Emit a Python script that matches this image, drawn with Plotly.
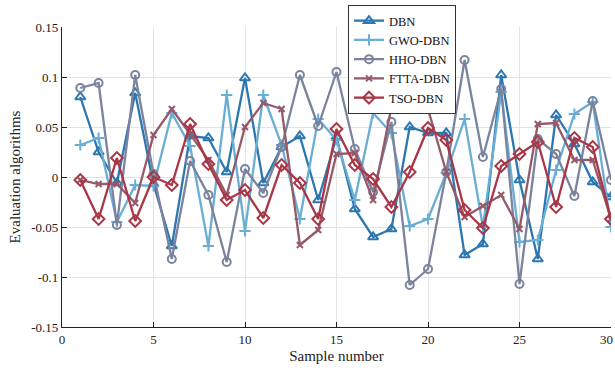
import plotly.graph_objects as go

samples = list(range(1, 31))

dbn = [0.080, 0.025, -0.006, 0.084, -0.007, -0.069, 0.041, 0.039, 0.005, 0.099,
       -0.006, 0.030, 0.041, -0.023, 0.040, -0.032, -0.060, -0.052, 0.050, 0.044,
       0.044, -0.078, -0.067, 0.102, -0.003, -0.082, 0.062, 0.033, -0.005, -0.020]
gwo = [0.032, 0.039, -0.045, -0.008, -0.009, 0.064, 0.031, -0.069, 0.082, -0.054,
       0.082, 0.032, -0.042, 0.058, 0.037, -0.023, 0.064, 0.044, -0.049, -0.042,
       0.004, 0.058, -0.050, 0.085, -0.065, -0.063, 0.007, 0.063, 0.075, -0.050]
hho = [0.089, 0.094, -0.048, 0.102, 0.003, -0.082, 0.016, -0.018, -0.085, 0.008,
       -0.016, 0.030, 0.102, 0.051, 0.105, 0.028, -0.015, 0.055, -0.108, -0.092,
       0.005, 0.117, 0.020, 0.088, -0.107, 0.038, 0.023, -0.019, 0.076, -0.003]
ftta = [-0.003, -0.007, -0.007, -0.026, 0.042, 0.068, 0.043, 0.017, -0.018, 0.050,
        0.074, 0.068, -0.068, -0.053, 0.023, 0.024, -0.023, 0.070, 0.069, 0.068,
        0.005, -0.040, -0.029, -0.018, -0.052, 0.053, 0.054, 0.017, 0.017, -0.042]
tso = [-0.003, -0.042, 0.019, -0.044, 0.000, -0.008, 0.053, 0.013, -0.023, -0.013,
       -0.041, 0.012, -0.006, -0.042, 0.048, 0.012, -0.002, -0.030, 0.005, 0.049,
       0.037, -0.033, -0.051, 0.011, 0.023, 0.035, -0.030, 0.039, 0.030, -0.042]

x_ticks = [0, 5, 10, 15, 20, 25, 30]
y_ticks = [-0.15, -0.1, -0.05, 0, 0.05, 0.1, 0.15]
y_tick_labels = ["-0.15", "-0.1", "-0.05", "0", "0.05", "0.1", "0.15"]

series = [
    ("DBN", dbn, "#2d77b0", "triangle-up-open", 9),
    ("GWO-DBN", gwo, "#6aaed6", "cross-thin-open", 8),
    ("HHO-DBN", hho, "#7b839d", "circle-open", 8),
    ("FTTA-DBN", ftta, "#955a69", "x-thin-open", 6),
    ("TSO-DBN", tso, "#a93646", "diamond-open", 9),
]

fig = go.Figure()
for name, vals, color, sym, size in series:
    fig.add_trace(go.Scatter(
        x=samples, y=vals, name=name, mode="lines+markers",
        line=dict(color=color, width=2.3),
        marker=dict(symbol=sym, size=size, color=color,
                    line=dict(color=color, width=2.0)),
    ))

font_family = "Liberation Serif"
fig.update_layout(
    width=615, height=371,
    margin=dict(l=62, r=4, t=27, b=44, autoexpand=False),
    paper_bgcolor="white", plot_bgcolor="white",
    font=dict(family=font_family, size=13, color="#222222"),
    showlegend=True,
    legend=dict(xref="container", yref="container",
                x=348 / 615, y=1 - 5 / 371, xanchor="left", yanchor="top",
                bgcolor="white", bordercolor="#333333", borderwidth=1,
                font=dict(family=font_family, size=12.5, color="#111111"),
                tracegroupgap=0, itemwidth=30),
)
# the last x tick label sits at the page edge; nudge it in so it stays readable
fig.add_annotation(x=x_ticks[-1], y=0, xref="x", yref="paper", text=str(x_ticks[-1]),
                   showarrow=False, xanchor="center", yanchor="top", yshift=-3,
                   xshift=-5, font=dict(size=13, color="#222222"))
fig.update_xaxes(
    range=[0, 30], tickvals=x_ticks, ticks="inside", ticklen=5,
    tickcolor="#222222", showline=True, linecolor="#222222", linewidth=1.2,
    showgrid=True, gridcolor="#e3e3e3", gridwidth=1, zeroline=False,
    automargin=False,
    title=dict(text="Sample number", font=dict(size=15), standoff=4),
    tickfont=dict(size=13),
)
fig.update_yaxes(
    range=[-0.15, 0.15], tickvals=y_ticks, ticktext=y_tick_labels,
    ticks="inside", ticklen=5, tickcolor="#222222", showline=True,
    linecolor="#222222", linewidth=1.2, showgrid=True, gridcolor="#e3e3e3",
    gridwidth=1, zeroline=False, automargin=False,
    title=dict(text="Evaluation algorithms", font=dict(size=15), standoff=6),
    tickfont=dict(size=13),
)

fig.write_html("out.html", config={"displayModeBar": False},
               post_script="document.body.style.margin='0';document.body.style.overflow='hidden';")
